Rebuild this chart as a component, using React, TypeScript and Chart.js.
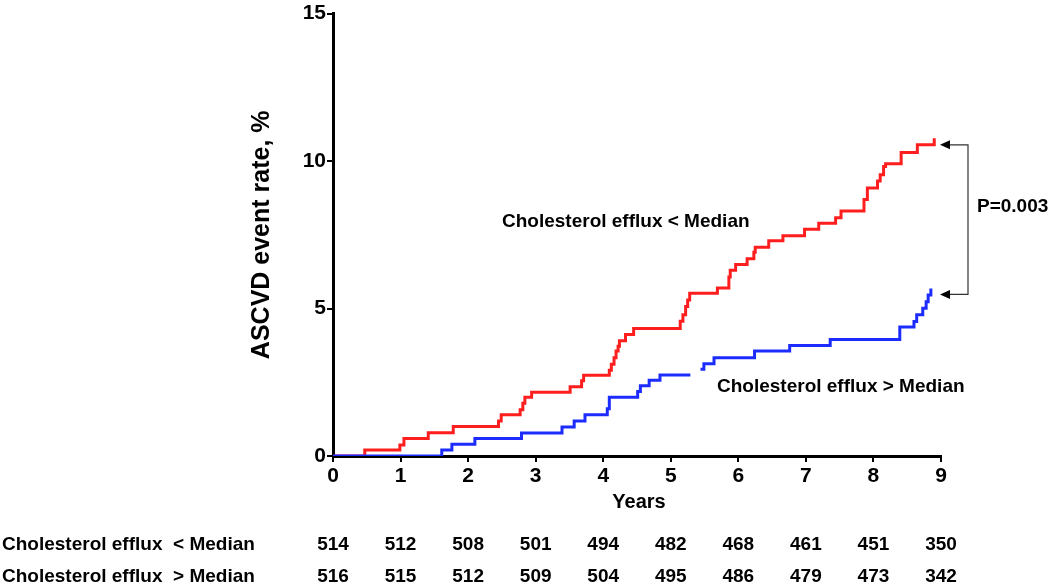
import React, { useEffect, useRef } from "react";
import { Chart, registerables } from "chart.js";

Chart.register(...registerables);

// Cumulative ASCVD event rate (%) over years – Kaplan-Meier style step curves
const lowEffluxYears = [0, 0.47, 0.99, 1.05, 1.41, 1.78, 2.45, 2.49, 2.77, 2.81, 2.84, 2.94, 3.51, 3.68, 3.71, 4.09, 4.12, 4.16, 4.19, 4.22, 4.24, 4.33, 4.45, 5.14, 5.18, 5.22, 5.25, 5.28, 5.69, 5.86, 5.88, 5.96, 6.13, 6.23, 6.25, 6.45, 6.66, 6.98, 7.19, 7.44, 7.52, 7.86, 7.91, 8.06, 8.10, 8.15, 8.18, 8.41, 8.65, 8.90];
const lowEffluxRates = [0, 0.2, 0.37, 0.59, 0.79, 1.0, 1.19, 1.4, 1.57, 1.79, 1.99, 2.16, 2.35, 2.55, 2.74, 2.91, 3.11, 3.33, 3.56, 3.72, 3.91, 4.12, 4.32, 4.57, 4.79, 5.07, 5.29, 5.52, 5.7, 6.07, 6.3, 6.49, 6.69, 6.91, 7.08, 7.3, 7.47, 7.69, 7.89, 8.08, 8.31, 8.7, 9.09, 9.32, 9.54, 9.82, 9.91, 10.29, 10.55, 10.77];

const highEffluxYears = [0, 1.61, 1.76, 2.10, 2.79, 3.39, 3.57, 3.73, 4.06, 4.09, 4.51, 4.55, 4.68, 4.84, 5.29, 5.36, 5.44, 5.49, 5.64, 6.24, 6.76, 7.36, 8.39, 8.60, 8.64, 8.73, 8.78, 8.81, 8.85];
const highEffluxRates = [0, 0.2, 0.4, 0.59, 0.78, 0.98, 1.19, 1.4, 1.6, 1.99, 2.19, 2.38, 2.57, 2.75, 2.75, null, 2.94, 3.13, 3.33, 3.56, 3.75, 3.95, 4.37, 4.56, 4.79, 5.01, 5.23, 5.46, 5.68];

// Numbers at risk
const riskYears = [0, 1, 2, 3, 4, 5, 6, 7, 8, 9];
const atRiskLow = [514, 512, 508, 501, 494, 482, 468, 461, 451, 350];
const atRiskHigh = [516, 515, 512, 509, 504, 495, 486, 479, 473, 342];
const rowLabels = ["Cholesterol efflux  < Median", "Cholesterol efflux  > Median"];

const curveLabels = ["Cholesterol efflux < Median", "Cholesterol efflux > Median"];
const pValueText = "P=0.003";
const arrowValues = [10.55, 5.48];

const FONT = '"Liberation Sans", Arial, sans-serif';

export default function App() {
  const canvasRef = useRef<HTMLCanvasElement | null>(null);

  useEffect(() => {
    if (!canvasRef.current) return;

    const overlay = {
      id: "overlay",
      afterDraw(chart: any) {
        const ctx = chart.ctx as CanvasRenderingContext2D;
        const xs = chart.scales.x;
        const ys = chart.scales.y;
        ctx.save();
        ctx.fillStyle = "#000";
        ctx.textBaseline = "middle";

        // y-axis title
        ctx.save();
        ctx.translate(262, (ys.top + ys.bottom) / 2);
        ctx.rotate(-Math.PI / 2);
        ctx.textAlign = "center";
        ctx.font = `bold 25px ${FONT}`;
        ctx.fillText("ASCVD event rate, %", 0, 0);
        ctx.restore();

        // x-axis title
        ctx.textAlign = "center";
        ctx.font = `bold 20px ${FONT}`;
        ctx.fillText("Years", (xs.left + xs.right) / 2 + 2, 502);

        // curve labels
        ctx.textAlign = "left";
        ctx.font = `bold 19px ${FONT}`;
        ctx.fillText(curveLabels[0], 502, 222);
        ctx.fillText(curveLabels[1], 717, 387);

        // P-value bracket
        const yTop = ys.getPixelForValue(arrowValues[0]);
        const yBot = ys.getPixelForValue(arrowValues[1]);
        const tipX = xs.right;
        const bx = 968;
        ctx.strokeStyle = "#333";
        ctx.lineWidth = 1.2;
        ctx.beginPath();
        ctx.moveTo(tipX + 7, yTop);
        ctx.lineTo(bx, yTop);
        ctx.lineTo(bx, yBot);
        ctx.lineTo(tipX + 7, yBot);
        ctx.stroke();
        ctx.fillStyle = "#000";
        [yTop, yBot].forEach((yy) => {
          ctx.beginPath();
          ctx.moveTo(tipX - 1, yy);
          ctx.lineTo(tipX + 9, yy - 4.5);
          ctx.lineTo(tipX + 9, yy + 4.5);
          ctx.closePath();
          ctx.fill();
        });
        ctx.textAlign = "left";
        ctx.font = `bold 19px ${FONT}`;
        ctx.fillText(pValueText, 977, 207);

        // numbers at risk table
        ctx.font = `bold 19px ${FONT}`;
        ctx.textAlign = "left";
        ctx.fillText(rowLabels[0], 2, 545);
        ctx.fillText(rowLabels[1], 2, 577);
        ctx.textAlign = "center";
        riskYears.forEach((yr, i) => {
          const px = xs.getPixelForValue(yr);
          ctx.fillText(String(atRiskLow[i]), px, 545);
          ctx.fillText(String(atRiskHigh[i]), px, 577);
        });
        ctx.restore();
      },
    };

    const chart = new Chart(canvasRef.current, {
      type: "line",
      data: {
        datasets: [
          {
            label: curveLabels[1],
            data: highEffluxYears.map((x, i) => ({ x, y: highEffluxRates[i] })),
            borderColor: "#1c2cff",
            borderWidth: 3,
            pointRadius: 0,
            stepped: "before",
            spanGaps: false,
            fill: false,
          },
          {
            label: curveLabels[0],
            data: lowEffluxYears.map((x, i) => ({ x, y: lowEffluxRates[i] })),
            borderColor: "#ff1e1e",
            borderWidth: 3,
            pointRadius: 0,
            stepped: "before",
            fill: false,
          },
        ],
      },
      options: {
        responsive: false,
        animation: false,
        layout: { padding: { top: 10, right: 109, bottom: 0, left: 0 } },
        plugins: {
          legend: { display: false },
          tooltip: { enabled: false },
        },
        scales: {
          x: {
            type: "linear",
            min: 0,
            max: 9,
            afterFit: (scale: any) => {
              scale.height = 132;
            },
            ticks: {
              stepSize: 1,
              color: "#000",
              padding: 2,
              font: { family: FONT, size: 21, weight: "bold" },
            },
            grid: {
              drawOnChartArea: false,
              drawTicks: true,
              tickLength: 6,
              color: "#000",
              lineWidth: 2,
            },
            border: { display: true, color: "#000", width: 3 },
          },
          y: {
            type: "linear",
            min: 0,
            max: 15,
            afterFit: (scale: any) => {
              scale.width = 333;
            },
            ticks: {
              stepSize: 5,
              color: "#000",
              padding: 1,
              font: { family: FONT, size: 21, weight: "bold" },
            },
            grid: {
              drawOnChartArea: false,
              drawTicks: true,
              tickLength: 6,
              color: "#000",
              lineWidth: 2,
            },
            border: { display: true, color: "#000", width: 3 },
          },
        },
      },
      plugins: [overlay],
    });

    return () => chart.destroy();
  }, []);

  return (
    <div style={{ position: "fixed", left: 0, top: 0, width: 1050, height: 588, background: "#fff" }}>
      <canvas ref={canvasRef} width={1050} height={588} />
    </div>
  );
}
